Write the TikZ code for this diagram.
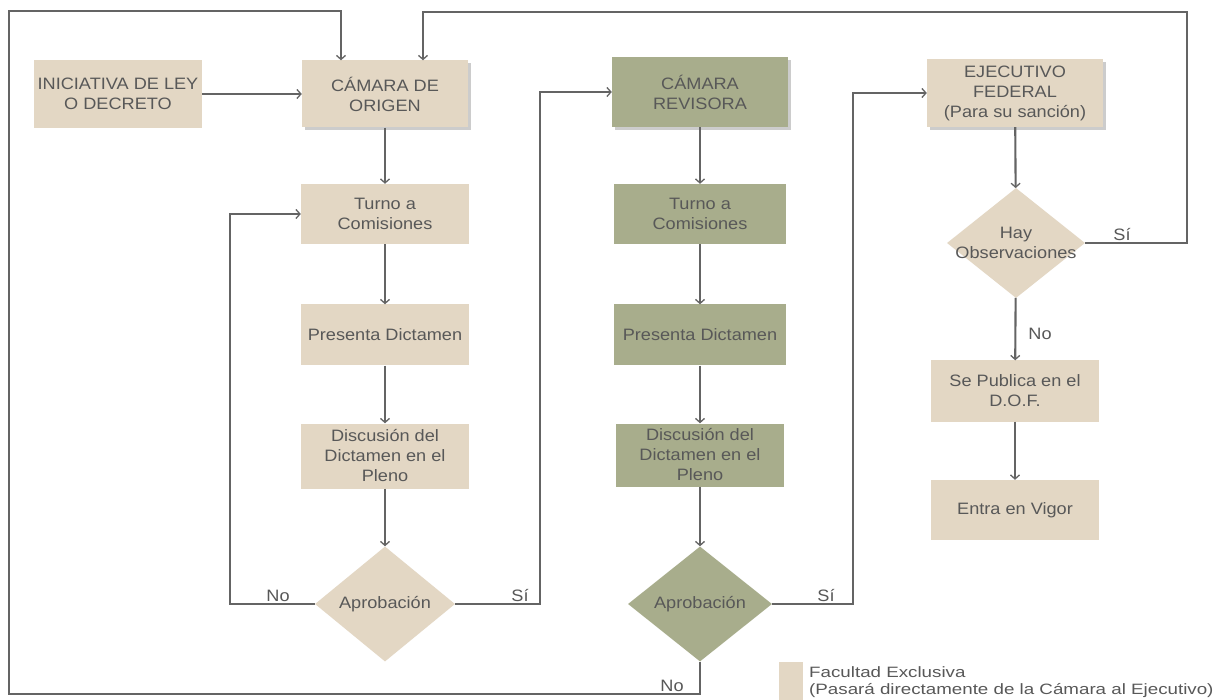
\documentclass[tikz,border=0pt]{standalone}
\usepackage{fontspec}
\setmainfont{Liberation Sans}[FakeStretch=1.1]
\newfontfamily\legfont{Liberation Sans}[FakeStretch=1.25]
\usetikzlibrary{arrows.meta,shapes.geometric,shadows}
\definecolor{beige}{RGB}{227,215,196}
\definecolor{olive}{RGB}{168,173,140}
\definecolor{txt}{RGB}{88,88,88}
\definecolor{ln}{RGB}{100,100,100}
\begin{document}
\begin{tikzpicture}[x=1pt,y=-1pt,
  boxtext/.style={text=txt, font=\fontsize{16.5}{20}\selectfont},
  box/.style={boxtext, rectangle, minimum width=168pt, minimum height=62pt, align=center, inner sep=2pt},
  bbox/.style={box, fill=beige},
  gbox/.style={box, fill=olive},
  shad/.style={drop shadow={shadow xshift=3pt, shadow yshift=-3pt, opacity=0.2, fill=black}},
  dia/.style={diamond, inner sep=0pt},
  lbl/.style={boxtext, inner sep=0pt},
  conn/.style={draw=ln, line width=2.1pt, -{Straight Barb[length=4pt,width=9pt,line width=1.3pt]}}
]
\fill[white] (0,0) rectangle (1215,700);
\useasboundingbox (0,0) rectangle (1215,700);

% left column
\node[bbox, minimum width=168pt, minimum height=68pt] (ini) at (118,94) {INICIATIVA DE LEY\\O DECRETO};
\node[bbox, shad, minimum width=166pt, minimum height=67pt] (org) at (385,94) {CÁMARA DE\\ORIGEN};
\node[bbox, minimum height=60pt] (t1) at (385,214) {Turno a\\Comisiones};
\node[bbox, minimum height=61pt] (p1) at (385,335) {Presenta Dictamen};
\node[bbox, minimum height=65pt] (d1) at (385,456) {Discusión del\\Dictamen en el\\Pleno};
\node[dia, fill=beige, minimum width=140pt, minimum height=115pt] (ap1) at (385,604) {};
\node[lbl] (ap1t) at (ap1) {Aprobación};

% middle column
\node[gbox, shad, minimum width=176pt, minimum height=70pt] (rev) at (700,92) {CÁMARA\\REVISORA};
\node[gbox, minimum width=172pt, minimum height=60pt] (t2) at (700,214) {Turno a\\Comisiones};
\node[gbox, minimum width=172pt, minimum height=61pt] (p2) at (700,335) {Presenta Dictamen};
\node[gbox, minimum width=168pt, minimum height=63pt] (d2) at (700,455) {Discusión del\\Dictamen en el\\Pleno};
\node[dia, fill=olive, minimum width=144pt, minimum height=115pt] (ap2) at (700,604) {};
\node[lbl] (ap2t) at (ap2) {Aprobación};

% right column
\node[bbox, shad, minimum width=176pt, minimum height=68pt] (eje) at (1015,93) {EJECUTIVO\\FEDERAL\\(Para su sanción)};
\node[dia, fill=beige, minimum width=138pt, minimum height=110pt] (obs) at (1016,243) {};
\node[lbl, align=center] (obst) at (obs) {Hay\\Observaciones};
\node[bbox, minimum height=61pt] (pub) at (1015,391) {Se Publica en el\\D.O.F.};
\node[bbox, minimum height=60pt] (vig) at (1015,510) {Entra en Vigor};

% helper coordinates
\coordinate (tl) at (9,11);
\coordinate (bl) at (9,694);
\coordinate (tr) at (1187,12);
\coordinate (nl) at (230,0);
\coordinate (s1) at (540,0);
\coordinate (s2) at (853,0);

% connectors
\draw[conn] (ini) -- (org);
\draw[conn] (org) -- (t1);
\draw[conn] (t1) -- (p1);
\draw[conn] (p1) -- (d1);
\draw[conn] (d1) -- (ap1);
\draw[conn] (rev) -- (t2);
\draw[conn] (t2) -- (p2);
\draw[conn] (p2) -- (d2);
\draw[conn] (d2) -- (ap2);
\draw[conn] (eje) -- (obs);
\draw[conn] (obs) -- (pub);
\draw[conn] (pub) -- (vig);

\draw[conn] (ap1.west) -- (ap1.west -| nl) |- (t1.west);
\draw[conn] (ap1.east) -- (ap1.east -| s1) |- (rev.west);
\draw[conn] (ap2.east) -- (ap2.east -| s2) |- (eje.west);
\draw[conn] (ap2.south) |- (bl) -- (tl) -| ([xshift=-44pt]org.north);
\draw[conn] (obs.east) -| (tr) -| ([xshift=38pt]org.north);

% labels
\node[lbl] (lno1) at (278,596) {No};
\node[lbl] (lsi1) at (520,596) {Sí};
\node[lbl] (lsi2) at (826,596) {Sí};
\node[lbl] (lno2) at (1040,334) {No};
\node[lbl] (lsi3) at (1122,235) {Sí};
\node[lbl] (lno3) at (672,686) {No};

% legend
\node[fill=beige, minimum width=24pt, minimum height=38pt, inner sep=0pt] (leg) at (791,681) {};
\node[anchor=north west, align=left, inner sep=0pt, text=txt, font=\legfont\fontsize{15}{17}\selectfont] (legt) at (809,666) {Facultad Exclusiva\\(Pasará directamente de la Cámara al Ejecutivo)};
\end{tikzpicture}
\end{document}
